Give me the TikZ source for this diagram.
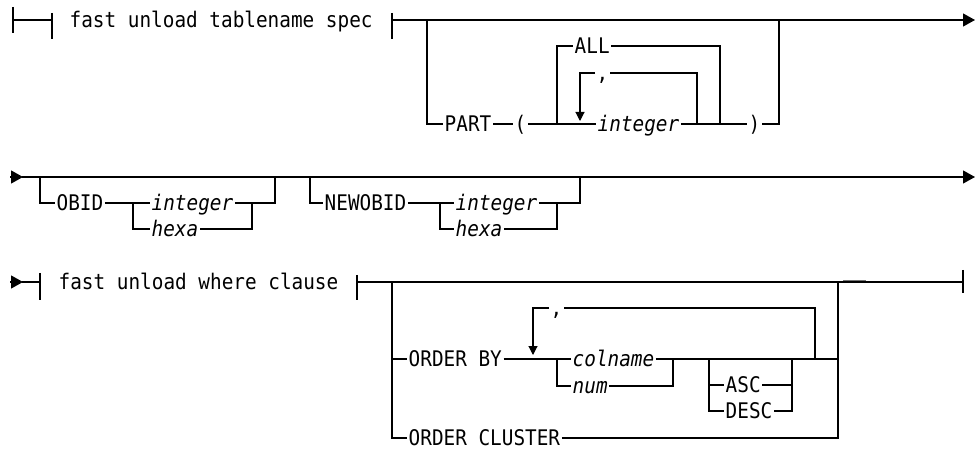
\documentclass[tikz,border=0pt]{standalone}
\usepackage{fontspec}
\usepackage{tikz}
\usetikzlibrary{arrows.meta}
\newfontfamily\rrfont[FakeStretch=0.90]{DejaVu Sans Mono}
\tikzset{
  rail/.style={line width=1.1pt},
  railtick/.style={line width=1.3pt},
  kwtext/.style={anchor=west,inner sep=0pt,inner xsep=1.5pt,text height=15.6pt,text depth=0pt,font=\rrfont\fontsize{21.5}{25}\selectfont},
  vartext/.style={kwtext,font=\rrfont\fontsize{21.5}{25}\selectfont\itshape},
  endarr/.style={-{Triangle[length=12pt,width=13pt]}},
  looparr/.style={-{Triangle[length=9pt,width=9pt]}}
}
\begin{document}
\begin{tikzpicture}[x=1pt,y=-1pt]
  \useasboundingbox (0,0) rectangle (975,449);
  \draw[railtick] (13,7) -- (13,33);
  \draw[rail] (13,20) -- (52,20);
  \draw[railtick] (52,13) -- (52,39);
  \node[kwtext] (tspec) at (68,20) {fast unload tablename spec};
  \draw[railtick] (392,13) -- (392,39);
  \draw[rail,endarr] (392,20) -- (975,20);
  \node[kwtext] (part) at (443,124) {PART};
  \node[kwtext] (lpar) at (513,124) {(};
  \node[kwtext] (all) at (573,46) {ALL};
  \node[kwtext] (sep1) at (595,73) {,};
  \node[vartext] (int1) at (596,124) {integer};
  \node[kwtext] (rpar) at (747,124) {)};
  \draw[rail] (427,20) |- (part.west);
  \draw[rail] (part.east) -- (lpar.west);
  \draw[rail] (lpar.east) -- (int1.west);
  \draw[rail] (557,124) |- (all.west);
  \draw[rail] (all.east) -| (720,124);
  \draw[rail,looparr] (sep1.west) -| (580,121);
  \draw[rail] (sep1.east) -| (697,124);
  \draw[rail] (int1.east) -- (rpar.west);
  \draw[rail] (rpar.east) -| (779,20);

  \draw[rail,endarr] (10,177) -- (23,177);
  \draw[rail,endarr] (22,177) -- (975,177);
  \node[kwtext] (obid) at (55,203) {OBID};
  \node[vartext] (oint) at (150,203) {integer};
  \node[vartext] (ohex) at (150,229) {hexa};
  \draw[rail] (40,177) |- (obid.west);
  \draw[rail] (obid.east) -- (oint.west);
  \draw[rail] (133,203) |- (ohex.west);
  \draw[rail] (ohex.east) -| (252,203);
  \draw[rail] (oint.east) -| (275,177);
  \node[kwtext] (nobid) at (323,203) {NEWOBID};
  \node[vartext] (nint) at (454,203) {integer};
  \node[vartext] (nhex) at (454,229) {hexa};
  \draw[rail] (310,177) |- (nobid.west);
  \draw[rail] (nobid.east) -- (nint.west);
  \draw[rail] (440,203) |- (nhex.west);
  \draw[rail] (nhex.east) -| (557,203);
  \draw[rail] (nint.east) -| (580,177);

  \draw[rail,endarr] (10,282) -- (23,282);
  \draw[rail] (22,282) -- (40,282);
  \draw[railtick] (40,273) -- (40,300);
  \node[kwtext] (wcl) at (57,282) {fast unload where clause};
  \draw[railtick] (357,275) -- (357,300);
  \draw[rail] (357,282) -- (963,282);
  \draw[railtick] (963,270) -- (963,293);
  \draw[line width=0.8pt,black!55] (843,280.8) -- (866,280.8);
  \node[kwtext] (ordby) at (407,359) {ORDER BY};
  \node[kwtext] (ordcl) at (407,438) {ORDER CLUSTER};
  \node[vartext] (cname) at (571,359) {colname};
  \node[vartext] (cnum) at (571,386) {num};
  \node[kwtext] (sep2) at (549,308) {,};
  \node[kwtext] (asc) at (724,385) {ASC};
  \node[kwtext] (desc) at (724,411) {DESC};
  \draw[rail] (392,282) |- (ordby.west);
  \draw[rail] (392,359) |- (ordcl.west);
  \draw[rail] (ordcl.east) -| (838,282);
  \draw[rail] (ordby.east) -- (cname.west);
  \draw[rail] (557,359) |- (cnum.west);
  \draw[rail] (cnum.east) -| (673,359);
  \draw[rail,looparr] (sep2.west) -| (533,355);
  \draw[rail] (sep2.east) -| (815,359);
  \draw[rail] (cname.east) -- (838,359);
  \draw[rail] (709,359) |- (desc.west);
  \draw[rail] (709,385) -- (asc.west);
  \draw[rail] (desc.east) -| (792,359);
  \draw[rail] (asc.east) -- (792,385);
\end{tikzpicture}
\end{document}
